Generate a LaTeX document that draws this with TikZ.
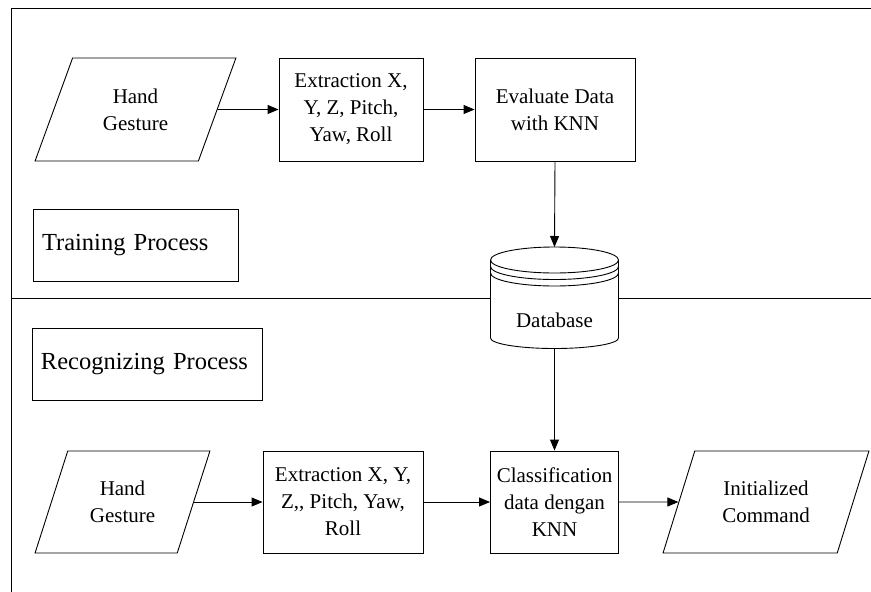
\documentclass[tikz,border=0pt]{standalone}
\usepackage{fontspec}
\setmainfont{Liberation Serif}
\newfontfamily\tnrfont{Liberation Serif}
\usetikzlibrary{shapes.geometric,arrows.meta}
\tikzset{
  every node/.style={font=\tnrfont\fontsize{21}{27}\selectfont},
  procbox/.style={draw, line width=0.9pt, rectangle, align=center, inner sep=0pt},
  iobox/.style={draw, line width=0.9pt, trapezium, trapezium left angle=65, trapezium right angle=115,
    trapezium stretches=true, align=center, inner sep=0pt},
  labelbox/.style={draw, line width=0.9pt, rectangle, align=left, inner xsep=9pt, inner ysep=0pt,
    font=\tnrfont\fontsize{24.5}{28}\selectfont},
  flow/.style={-{Triangle[length=11pt,width=9pt]}, line width=0.9pt},
  frame/.style={line width=1pt}
}
\begin{document}
\begin{tikzpicture}[x=1pt,y=-1pt]
\useasboundingbox (0,0) rectangle (871,592);
% frame
\coordinate (fTL) at (11.5,8.5);
\coordinate (fTR) at (871,8.5);
\coordinate (fBL) at (11.5,592);
\draw[frame] (fTR) -- (fTL) -- (fBL);
% training row
\node[iobox, minimum width=201pt, minimum height=103pt] (hg1) at (135.5,109.5) {Hand\\Gesture};
\node[procbox, minimum width=144pt, minimum height=103pt] (ex1) at (351,109.5) {Extraction X,\\Y, Z, Pitch,\\Yaw, Roll};
\node[procbox, minimum width=160pt, minimum height=103pt] (ev1) at (555,109.5) {Evaluate Data\\with KNN};
\node[labelbox, minimum height=72pt, text width=187pt] (tp) at (135.5,245) {Training Process};
% database
\coordinate (dbtop) at (554.5,247);
\coordinate (dbbot) at (554.5,349);
\coordinate (dbL) at (490.5,298);
\coordinate (dbR) at (618.5,298);
% divider
\draw[frame] (fTL |- dbL) -- (dbL);
\draw[frame] (dbR) -- (fTR |- dbR);
\draw[line width=0.9pt, fill=white] (490.5,260) -- (490.5,338) arc[start angle=180, end angle=360, x radius=64pt, y radius=10.5pt] -- (618.5,260);
\draw[line width=0.9pt] (554.5,260) ellipse[x radius=64pt, y radius=13pt];
\draw[line width=0.9pt] (490.5,266.5) arc[start angle=180, end angle=360, x radius=64pt, y radius=13pt];
\draw[line width=0.9pt] (490.5,273) arc[start angle=180, end angle=360, x radius=64pt, y radius=13pt];
\node (db) at (554.5,320) {Database};
% recognizing row
\node[labelbox, minimum height=72pt, text width=212pt] (rp) at (147,364) {Recognizing Process};
\node[iobox, minimum width=175pt, minimum height=102pt] (hg2) at (122.5,502) {Hand\\Gesture};
\node[procbox, minimum width=160pt, minimum height=102pt] (ex2) at (343,502) {Extraction X, Y,\\Z,, Pitch, Yaw,\\Roll};
\node[procbox, minimum width=128pt, minimum height=102pt] (cl2) at (554.5,502) {Classification\\data dengan\\KNN};
\node[iobox, minimum width=206pt, minimum height=102pt] (ic2) at (766,502) {Initialized\\Command};
% connectors
\draw[flow] (hg1.east) -- (ex1.west);
\draw[flow] (ex1.east) -- (ev1.west);
\draw[flow] (ev1.south) -- (dbtop);
\draw[flow] (dbbot) -- (cl2.north);
\draw[flow] (hg2.east) -- (ex2.west);
\draw[flow] (ex2.east) -- (cl2.west);
\draw[flow] (cl2.east) -- (ic2.west);
\end{tikzpicture}
\end{document}
